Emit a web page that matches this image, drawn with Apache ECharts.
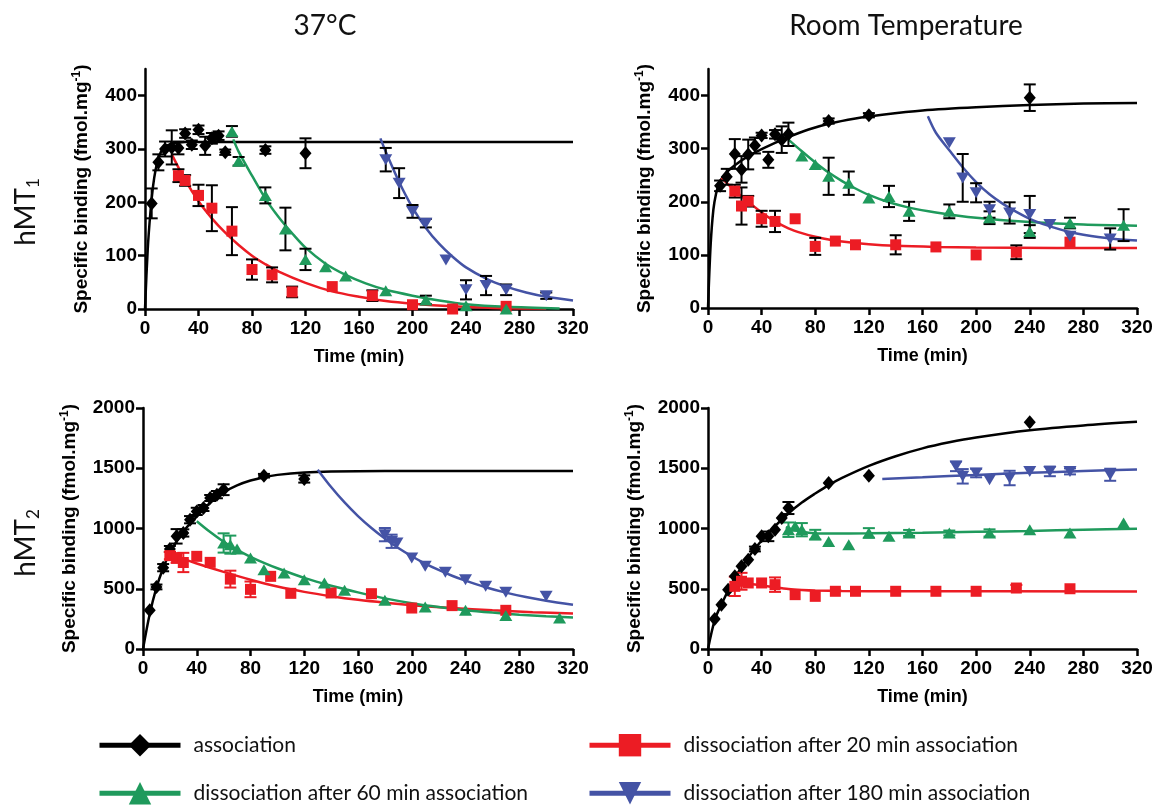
<!DOCTYPE html>
<html>
<head>
<meta charset="utf-8">
<title>hMT binding kinetics</title>
<script src="https://cdn.jsdelivr.net/npm/echarts@6/dist/echarts.min.js"></script>
<style>
    html, body { margin: 0; padding: 0; background: #fff; }
    #chart { width: 1160px; height: 811px; }
</style>
</head>
<body>
<div id="chart"></div>
<script>
// series / axis text
var seriesNames = ['association', 'dissociation after 20 min association',
                   'dissociation after 60 min association', 'dissociation after 180 min association'];
var colTitles = ['37°C', 'Room Temperature'];
var rowLabels = ['1', '2'];            // hMT subscripts
var timeTicks = [0, 40, 80, 120, 160, 200, 240, 280, 320];
var hmt1Ticks = [0, 100, 200, 300, 400];
var hmt2Ticks = [0, 500, 1000, 1500, 2000];

// measured points: [time (min), binding, error half-width]
// hMT1, 37°C
var h1w37Assoc = [[5,198,28],[10,275,15],[15,300,14],[20,303,32],[25,302,12],[30,329,8],[35,308,8],[40,336,8],[45,306,17],[50,320,10],[55,325,8],[60,294,5],[90,298,7],[120,292,28]];
var h1w37D20 = [[25,250,12],[30,241,10],[40,213,20],[50,189,43],[65,146,45],[80,74,19],[95,64,14],[110,32,10],[140,42,0],[170,25,10],[200,8,0],[230,0,0],[270,5,0]];
var h1w37D60 = [[65,333,10],[70,277,8],[90,213,15],[105,150,40],[120,93,20],[135,79,0],[150,62,0],[180,34,0],[210,17,8],[240,6,0],[270,0,0]];
var h1w37D180 = [[180,280,22],[190,236,28],[200,183,12],[210,161,8],[225,92,0],[240,36,18],[255,44,18],[270,36,10],[300,25,6]];
// hMT1, room temperature
var h1rtAssoc = [[9,230,10],[14,247,15],[20,290,28],[25,261,25],[30,289,28],[35,306,15],[40,325,5],[45,279,15],[50,327,8],[55,317,25],[60,327,22],[90,352,5],[120,363,4],[240,396,25]];
var h1rtD20 = [[20,220,12],[25,192,35],[30,201,10],[40,168,15],[50,163,20],[65,168,0],[80,116,16],[95,126,0],[110,119,0],[140,119,18],[170,115,0],[200,100,0],[230,105,13],[270,124,0]];
var h1rtD60 = [[70,286,0],[80,270,0],[90,248,35],[105,235,22],[120,207,0],[135,210,20],[150,182,18],[180,182,13],[210,170,12],[240,144,12],[270,160,10],[310,156,30]];
var h1rtD180 = [[180,311,0],[190,245,45],[200,217,18],[210,185,15],[225,179,20],[240,176,35],[255,157,0],[270,135,0],[300,130,20]];
// hMT2, 37°C
var h2w37Assoc = [[5,322,0],[10,515,20],[15,675,30],[20,830,25],[25,935,60],[30,963,30],[35,1073,30],[40,1142,30],[45,1170,25],[50,1253,25],[55,1281,30],[60,1322,45],[90,1438,15],[120,1411,30]];
var h2w37D20 = [[20,775,30],[25,755,40],[30,718,80],[40,769,0],[50,719,0],[65,580,70],[80,495,65],[95,603,0],[110,462,0],[140,465,0],[170,459,0],[200,340,0],[230,360,0],[270,321,0]];
var h2w37D60 = [[60,880,80],[65,866,75],[70,830,0],[80,755,0],[90,658,0],[105,631,0],[120,575,0],[135,548,0],[150,487,0],[180,404,0],[210,349,0],[240,321,0],[270,277,0],[310,257,0]];
var h2w37D180 = [[180,949,55],[185,894,55],[189,880,0],[200,755,0],[210,686,0],[225,636,0],[240,575,0],[255,520,0],[270,470,0],[300,437,0]];
// hMT2, room temperature
var h2rtAssoc = [[5,249,0],[10,368,0],[15,492,0],[20,603,0],[25,686,0],[30,741,0],[35,830,20],[40,935,0],[45,935,40],[50,990,0],[55,1087,0],[60,1170,50],[90,1378,0],[120,1438,0],[240,1881,0]];
var h2rtD20 = [[20,520,80],[25,562,70],[30,548,0],[40,548,0],[50,534,60],[65,451,0],[80,437,0],[95,479,0],[110,479,0],[140,479,0],[170,479,0],[200,479,0],[230,506,25],[270,500,0]];
var h2rtD60 = [[60,990,60],[65,1018,0],[70,990,55],[80,949,40],[90,893,0],[105,866,0],[120,963,40],[135,935,0],[150,963,25],[180,963,20],[210,963,30],[240,990,0],[270,963,0],[310,1046,0]];
var h2rtD180 = [[185,1516,40],[190,1433,60],[200,1460,35],[210,1405,0],[225,1419,60],[240,1474,0],[255,1474,40],[270,1474,25],[300,1446,50]];

// fitted curves: [time, binding]
var h1w37AssocFit = [[0,0],[2,110],[4,180],[6,230],[8,262],[10,282],[12,295],[15,304],[20,310],[25,312],[30,313],[60,313],[120,313],[200,313],[320,313]];
var h1w37D20Fit = [[20,290],[30,242],[40,202],[50,170],[60,143],[70,120],[80,100],[90,84],[100,70],[120,49],[140,33],[160,23],[180,15],[200,10],[230,5],[260,2],[300,1]];
var h1w37D60Fit = [[66,318],[70,295],[80,250],[90,207],[100,172],[110,142],[120,115],[135,85],[150,64],[165,48],[180,36],[200,25],[220,16],[240,9],[270,4],[310,1]];
var h1w37D180Fit = [[176,320],[180,295],[190,238],[200,190],[210,152],[220,122],[230,98],[240,78],[255,57],[270,42],[285,31],[300,23],[320,16]];
var h1rtAssocFit = [[0,0],[2,120],[4,185],[6,215],[8,232],[10,243],[15,258],[20,269],[30,286],[40,299],[50,311],[60,322],[75,336],[90,347],[110,357],[130,364],[160,372],[200,378],[240,382],[280,385],[320,386]];
var h1rtD20Fit = [[10,245],[20,221],[30,200],[40,180],[50,163],[60,150],[70,141],[80,134],[90,129],[100,125],[120,120],[140,117],[170,115],[200,114],[260,113],[320,113]];
var h1rtD60Fit = [[60,317],[70,295],[80,274],[90,255],[100,239],[110,225],[120,213],[135,199],[150,189],[170,180],[200,170],[240,162],[280,157],[320,155]];
var h1rtD180Fit = [[164,361],[170,330],[180,297],[190,265],[200,237],[210,214],[220,196],[230,181],[240,168],[250,158],[260,150],[270,143],[280,138],[300,131],[320,127]];
var h2w37AssocFit = [[0,0],[5,290],[10,510],[15,670],[20,800],[30,975],[40,1100],[50,1215],[60,1300],[70,1358],[80,1398],[90,1426],[100,1445],[120,1465],[140,1473],[180,1477],[320,1478]];
var h2w37D20Fit = [[20,790],[30,748],[40,710],[60,640],[80,575],[100,518],[120,474],[140,438],[160,408],[180,384],[200,364],[230,340],[260,321],[290,306],[320,294]];
var h2w37D60Fit = [[40,1060],[50,970],[60,890],[70,822],[80,765],[90,715],[100,670],[120,590],[140,525],[160,470],[180,420],[200,380],[220,348],[240,322],[260,302],[280,285],[300,272],[320,262]];
var h2w37D180Fit = [[130,1488],[140,1344],[150,1216],[160,1103],[170,1004],[180,916],[190,838],[200,770],[210,709],[220,656],[230,608],[240,567],[255,513],[270,468],[285,431],[300,401],[320,367]];
var h2rtAssocFit = [[0,0],[5,240],[10,370],[20,590],[30,760],[40,900],[50,1020],[60,1125],[70,1215],[80,1290],[90,1360],[100,1420],[120,1520],[140,1600],[160,1665],[180,1715],[200,1755],[240,1815],[280,1855],[320,1885]];
var h2rtD20Fit = [[15,520],[20,535],[30,540],[40,528],[50,512],[60,498],[70,490],[80,485],[100,481],[140,479],[320,478]];
var h2rtD60Fit = [[58,1010],[65,985],[75,965],[90,958],[120,960],[160,965],[200,972],[240,980],[280,990],[320,998]];
var h2rtD180Fit = [[130,1411],[160,1425],[200,1445],[240,1462],[280,1477],[320,1490]];

var colors = ['#000000', '#ec1c24', '#1f9a5c', '#4453a5'];
var symbols = ['diamond', 'rect', 'triangle', 'triangle'];
var symRotate = [0, 0, 0, 180];
var symSizes = [[12, 14], [11, 11], [13, 11], [13, 11]];
var axisFont = 'Liberation Sans';

// panels: TL, TR, BL, BR
var panels = [
    {pts: [h1w37Assoc, h1w37D20, h1w37D60, h1w37D180], fits: [h1w37AssocFit, h1w37D20Fit, h1w37D60Fit, h1w37D180Fit],
     grid: {left: 145, top: 69, width: 428, height: 240}, max: 450, step: 100, ticks: hmt1Ticks, blackErr: true, nameGap: 52},
    {pts: [h1rtAssoc, h1rtD20, h1rtD60, h1rtD180], fits: [h1rtAssocFit, h1rtD20Fit, h1rtD60Fit, h1rtD180Fit],
     grid: {left: 708, top: 69, width: 429, height: 239}, max: 450, step: 100, ticks: hmt1Ticks, blackErr: true, nameGap: 52},
    {pts: [h2w37Assoc, h2w37D20, h2w37D60, h2w37D180], fits: [h2w37AssocFit, h2w37D20Fit, h2w37D60Fit, h2w37D180Fit],
     grid: {left: 143, top: 408, width: 430, height: 241}, max: 2000, step: 500, ticks: hmt2Ticks, blackErr: false, nameGap: 62},
    {pts: [h2rtAssoc, h2rtD20, h2rtD60, h2rtD180], fits: [h2rtAssocFit, h2rtD20Fit, h2rtD60Fit, h2rtD180Fit],
     grid: {left: 708, top: 408, width: 429, height: 241}, max: 2000, step: 500, ticks: hmt2Ticks, blackErr: false, nameGap: 62}
];

var axisText = {fontFamily: axisFont, fontWeight: 'bold', fontSize: 19, color: '#000'};
var plain = function (v) { return String(v); };
var grids = [], xAxes = [], yAxes = [], series = [];

panels.forEach(function (p, pi) {
    var g = p.grid;
    grids.push({left: g.left, top: g.top, width: g.width, height: g.height, outerBoundsMode: 'none'});
    xAxes.push({
        type: 'value', gridIndex: pi, min: 0, max: 320, interval: 40,
        name: 'Time (min)', nameLocation: 'middle', nameGap: 39, nameMoveOverlap: false,
        nameTextStyle: {fontFamily: axisFont, fontWeight: 'bold', fontSize: 18, color: '#000'},
        axisLine: {lineStyle: {color: '#000', width: 2.5}},
        axisTick: {length: 7, lineStyle: {color: '#000', width: 2.5}, customValues: timeTicks},
        axisLabel: Object.assign({margin: 10, customValues: timeTicks, formatter: plain}, axisText),
        splitLine: {show: false}
    });
    yAxes.push({
        type: 'value', gridIndex: pi, min: 0, max: p.max, interval: p.step,
        name: '{a|Specific binding (fmol.mg}{s|-1}{a|)}', nameLocation: 'middle', nameRotate: 90,
        nameGap: p.nameGap, nameMoveOverlap: false,
        nameTextStyle: {rich: {
            a: {fontFamily: axisFont, fontWeight: 'bold', fontSize: 19, color: '#000', lineHeight: 22},
            s: {fontFamily: axisFont, fontWeight: 'bold', fontSize: 12, color: '#000', lineHeight: 12, verticalAlign: 'top'}
        }},
        axisLine: {lineStyle: {color: '#000', width: 2.5}},
        axisTick: {length: 7, lineStyle: {color: '#000', width: 2.5}, customValues: p.ticks},
        axisLabel: Object.assign({margin: 8, customValues: p.ticks, formatter: plain}, axisText),
        splitLine: {show: false}
    });

    p.fits.forEach(function (f, si) {
        series.push({
            type: 'line', name: 'fit ' + pi + '-' + si, xAxisIndex: pi, yAxisIndex: pi,
            data: f, smooth: 0.3, showSymbol: false, symbol: 'none', z: 2,
            lineStyle: {color: colors[si], width: 2.5}, silent: true
        });
    });
    p.pts.forEach(function (d, si) {
        var errCol = p.blackErr ? '#000' : colors[si];
        series.push({
            type: 'custom', name: 'err ' + pi + '-' + si, xAxisIndex: pi, yAxisIndex: pi, z: 3, silent: true,
            data: d.filter(function (r) { return r[2] > 0; })
                   .map(function (r) { return [r[0], Math.max(0, r[1] - r[2]), r[1] + r[2]]; }),
            encode: {x: 0, y: [1, 2]},
            renderItem: function (params, api) {
                var a = api.coord([api.value(0), api.value(1)]);
                var b = api.coord([api.value(0), api.value(2)]);
                var hw = 6, st = {stroke: errCol, lineWidth: 2};
                return {type: 'group', children: [
                    {type: 'line', shape: {x1: a[0], y1: a[1], x2: b[0], y2: b[1]}, style: st},
                    {type: 'line', shape: {x1: a[0] - hw, y1: a[1], x2: a[0] + hw, y2: a[1]}, style: st},
                    {type: 'line', shape: {x1: b[0] - hw, y1: b[1], x2: b[0] + hw, y2: b[1]}, style: st}
                ]};
            }
        });
        series.push({
            type: 'scatter', name: 'pts ' + pi + '-' + si, xAxisIndex: pi, yAxisIndex: pi, z: 4,
            data: d.map(function (r) { return [r[0], r[1]]; }),
            symbol: symbols[si], symbolSize: symSizes[si], symbolRotate: symRotate[si],
            itemStyle: {color: colors[si], opacity: 1}
        });
    });
});

// empty series that only feed the legend
seriesNames.forEach(function (n, si) {
    series.push({
        type: 'line', name: n, xAxisIndex: 0, yAxisIndex: 0, data: [],
        symbol: symbols[si], symbolRotate: symRotate[si], symbolSize: 22,
        itemStyle: {color: colors[si]}, lineStyle: {color: colors[si], width: 5}
    });
});

var legends = seriesNames.map(function (n, i) {
    return {
        data: [n], left: i % 2 ? 587 : 97, top: i < 2 ? 734 : 782, padding: 0,
        itemWidth: 81, itemHeight: 28, selectedMode: false,
        lineStyle: {width: 5},
        textStyle: {fontFamily: 'Lato', fontSize: 21, color: '#111', padding: [0, 0, 0, 8]}
    };
});

var titleStyle = {fontFamily: 'Lato', fontSize: 28, fill: '#111', align: 'center', verticalAlign: 'middle'};
var rowRich = {
    m: {fontFamily: 'Lato', fontSize: 28, fill: '#111', lineHeight: 32},
    s: {fontFamily: 'Lato', fontSize: 17, fill: '#111', lineHeight: 14, verticalAlign: 'bottom'}
};

var chart = echarts.init(document.getElementById('chart'));
chart.setOption({
    animation: false,
    backgroundColor: '#fff',
    textStyle: {fontFamily: axisFont},
    grid: grids,
    xAxis: xAxes,
    yAxis: yAxes,
    legend: legends,
    series: series,
    graphic: [
        {type: 'text', x: 325, y: 26, style: Object.assign({text: colTitles[0]}, titleStyle)},
        {type: 'text', x: 906, y: 26, style: Object.assign({text: colTitles[1]}, titleStyle)},
        {type: 'text', x: 26, y: 212, rotation: Math.PI / 2,
         style: {text: '{m|hMT}{s|' + rowLabels[0] + '}', rich: rowRich, align: 'center', verticalAlign: 'middle'}},
        {type: 'text', x: 26, y: 543, rotation: Math.PI / 2,
         style: {text: '{m|hMT}{s|' + rowLabels[1] + '}', rich: rowRich, align: 'center', verticalAlign: 'middle'}}
    ]
});
</script>
</body>
</html>
